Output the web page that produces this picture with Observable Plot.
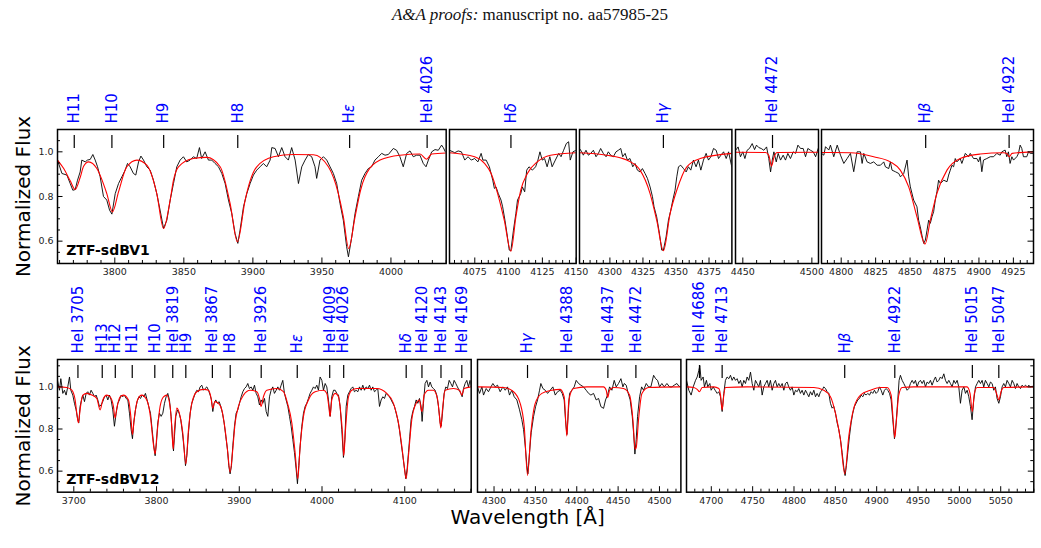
<!DOCTYPE html>
<html>
<head>
<meta charset="utf-8">
<script src="https://cdn.jsdelivr.net/npm/d3@7"></script>
<script src="https://cdn.jsdelivr.net/npm/@observablehq/plot@0.6"></script>
<style>
  body { margin: 0; background: #fff; }
  #fig { position: relative; width: 1041px; height: 548px; overflow: hidden; background: #fff; }
  .panel { position: absolute; }
  #title { position: absolute; left: 0; top: 6px; width: 1060px; text-align: center;
           font-family: "Liberation Serif", "Times New Roman", serif; font-size: 17px; line-height: 17px; color: #111; }
</style>
</head>
<body>
<div id="fig">
  <div id="title"><i>A&amp;A proofs:</i> manuscript no. aa57985-25</div>
</div>
<script>
// ---------------- ZTF-sdBV1: observed spectrum [wavelength Å, normalized flux] ----------------
const bv1ObsBlue = [[3758.5,0.963],[3761.7,0.903],[3765.3,0.896],[3767.7,0.858],[3769.6,0.828],[3771.3,0.831],[3773.0,0.873],[3774.9,0.91],[3776.1,0.963],[3778.6,0.955],[3780.2,0.963],[3782.2,0.966],[3784.1,0.988],[3785.8,0.963],[3787.5,0.933],[3789.4,0.888],[3791.8,0.80],[3794.2,0.784],[3796.2,0.739],[3797.9,0.721],[3800.3,0.813],[3802.7,0.858],[3805.1,0.888],[3807.5,0.918],[3809.2,0.948],[3811.1,0.933],[3813.5,0.903],[3815.2,0.896],[3817.2,0.955],[3818.9,0.981],[3820.8,0.963],[3823.2,0.933],[3825.6,0.918],[3828.0,0.873],[3830.4,0.813],[3832.8,0.739],[3835.3,0.657],[3837.7,0.694],[3840.1,0.784],[3842.5,0.858],[3844.9,0.933],[3847.3,0.963],[3849.7,0.978],[3852.1,0.955],[3854.5,0.963],[3856.9,0.978],[3859.3,0.970],[3861.3,1.019],[3862.9,0.970],[3865.4,1.0],[3867.8,0.963],[3870.2,0.963],[3872.6,0.948],[3875.1,0.933],[3877.5,0.903],[3879.9,0.858],[3882.3,0.784],[3884.7,0.724],[3887.1,0.634],[3889.1,0.59],[3890.7,0.649],[3893.2,0.754],[3895.6,0.813],[3898.0,0.858],[3900.4,0.896],[3902.8,0.918],[3905.2,0.933],[3907.6,0.948],[3910.0,0.933],[3912.5,0.963],[3913.7,1.019],[3916.1,1.015],[3918.5,0.978],[3920.9,1.019],[3923.3,0.978],[3925.7,0.963],[3928.1,1.019],[3930.6,0.963],[3933.0,0.858],[3935.4,0.933],[3937.8,0.963],[3940.2,0.988],[3942.6,0.978],[3945.0,0.933],[3946.2,0.881],[3948.6,0.963],[3951.1,0.978],[3953.5,0.963],[3955.9,0.933],[3958.3,0.903],[3960.7,0.858],[3963.1,0.769],[3965.5,0.694],[3967.9,0.575],[3969.2,0.53],[3971.6,0.619],[3974.0,0.724],[3976.4,0.80],[3978.8,0.873],[3981.2,0.903],[3983.6,0.925],[3986.0,0.933],[3988.4,0.963],[3990.9,0.978],[3993.3,0.993],[3995.7,0.985],[3998.1,0.988],[4001.7,1.015],[4004.1,1.007],[4006.5,0.978],[4008.9,0.933],[4011.4,0.993],[4013.8,1.004],[4016.2,0.978],[4018.6,0.985],[4021.0,0.985],[4023.4,0.948],[4025.4,0.933],[4027.1,0.963],[4029.5,1.0],[4031.9,1.01],[4034.3,1.007],[4036.7,1.03],[4037.9,1.019],[4039.4,1.0]];
const bv1ObsHdelta = [[4056.3,1.007],[4060.2,0.996],[4062.7,1.004],[4065.1,1.0],[4067.6,0.963],[4070.0,0.978],[4072.4,0.963],[4074.9,0.970],[4077.3,0.955],[4079.7,0.993],[4081.0,0.963],[4083.4,0.963],[4085.8,0.933],[4088.3,0.873],[4089.5,0.836],[4090.7,0.843],[4092.4,0.813],[4094.4,0.784],[4095.6,0.754],[4097.3,0.694],[4098.8,0.634],[4100.5,0.560],[4101.7,0.557],[4103.6,0.649],[4105.4,0.724],[4106.6,0.784],[4109.0,0.813],[4110.2,0.843],[4111.9,0.821],[4113.4,0.918],[4115.1,0.933],[4117.6,0.918],[4120.0,0.933],[4121.7,0.963],[4123.2,1.0],[4124.9,0.963],[4126.6,0.970],[4128.5,0.933],[4130.5,0.978],[4132.2,0.933],[4134.6,0.963],[4137.1,0.993],[4138.8,0.978],[4140.7,1.007],[4142.7,1.037],[4144.4,1.045],[4145.6,0.963],[4147.6,1.0],[4149.9,1.007]];
const bv1ObsHgamma = [[4277.0,1.015],[4278.7,1.0],[4279.9,0.985],[4281.9,1.007],[4283.7,0.985],[4285.5,0.993],[4287.5,1.007],[4289.5,0.978],[4291.3,0.993],[4293.0,1.015],[4295.0,0.993],[4297.1,0.978],[4298.8,1.0],[4300.6,0.985],[4302.6,0.978],[4304.6,1.0],[4306.4,1.007],[4308.2,1.015],[4309.7,0.978],[4311.5,0.993],[4313.2,0.963],[4315.2,0.970],[4317.3,0.933],[4319.0,0.948],[4320.8,0.918],[4322.8,0.910],[4324.6,0.925],[4326.6,0.903],[4328.4,0.881],[4330.4,0.843],[4332.2,0.799],[4333.4,0.754],[4335.4,0.709],[4337.5,0.634],[4339.2,0.560],[4340.5,0.560],[4342.5,0.619],[4344.3,0.694],[4346.1,0.739],[4347.6,0.784],[4349.3,0.828],[4350.6,0.888],[4351.9,0.933],[4353.6,0.940],[4355.7,0.925],[4357.7,0.910],[4359.4,0.933],[4361.2,0.918],[4363.2,0.963],[4365.2,0.933],[4367.0,0.963],[4368.8,0.918],[4370.8,0.963],[4372.8,0.993],[4374.6,0.963],[4376.4,0.978],[4378.4,1.015],[4380.4,1.007],[4382.2,0.970],[4384.0,0.985],[4386.0,1.0],[4388.0,0.970],[4389.8,1.0],[4392.2,0.933]];
const bv1ObsHeI4472 = [[4444.8,1.007],[4446.6,1.022],[4448.3,0.978],[4450.0,1.0],[4451.5,0.970],[4453.1,1.007],[4454.8,1.015],[4456.8,1.037],[4458.5,1.01],[4459.9,1.03],[4461.6,1.019],[4463.3,1.015],[4465.2,1.007],[4467.2,1.022],[4468.8,0.970],[4470.1,0.910],[4471.3,0.963],[4472.5,1.0],[4474.2,0.955],[4475.6,0.993],[4477.3,0.963],[4479.2,0.985],[4480.9,0.963],[4482.6,0.993],[4484.5,0.970],[4486.5,1.0],[4488.2,0.993],[4489.9,1.03],[4491.8,1.015],[4493.7,1.015],[4495.4,0.978],[4497.1,1.015],[4499.0,1.007],[4501.0,1.0],[4502.7,0.978],[4504.6,1.015]];
const bv1ObsHbeta = [[4785.7,0.993],[4787.4,0.985],[4788.6,1.023],[4791.0,1.008],[4792.2,1.03],[4794.6,0.978],[4797.1,1.03],[4799.5,0.985],[4801.9,0.948],[4804.3,0.970],[4806.7,0.993],[4809.1,0.911],[4811.5,1.0],[4814.0,1.0],[4815.2,0.948],[4816.4,0.993],[4818.8,0.955],[4821.2,0.948],[4823.6,0.955],[4826.1,0.940],[4828.5,0.940],[4830.9,0.955],[4832.1,0.933],[4834.5,0.925],[4835.7,0.955],[4836.9,0.918],[4839.3,0.911],[4841.8,0.903],[4843.0,0.888],[4845.4,0.903],[4847.8,0.963],[4849.0,0.888],[4850.2,0.843],[4852.6,0.784],[4855.0,0.754],[4856.2,0.694],[4857.4,0.664],[4858.6,0.627],[4859.9,0.590],[4861.1,0.605],[4862.3,0.649],[4863.5,0.694],[4864.7,0.680],[4865.9,0.709],[4867.1,0.732],[4868.3,0.784],[4869.5,0.821],[4870.7,0.873],[4872.0,0.858],[4874.4,0.873],[4876.8,0.866],[4878.0,0.896],[4879.2,0.918],[4880.4,0.940],[4881.6,0.933],[4882.8,0.970],[4884.0,0.955],[4886.4,0.970],[4887.6,0.948],[4888.8,0.970],[4890.1,0.993],[4892.5,0.978],[4893.7,0.993],[4896.1,0.970],[4898.5,0.970],[4899.7,0.955],[4900.9,0.978],[4902.1,0.911],[4903.3,0.963],[4905.7,0.970],[4908.2,0.978],[4910.6,0.978],[4913.0,0.993],[4915.4,0.985],[4916.6,1.0],[4919.0,1.008],[4920.2,0.978],[4921.4,1.0],[4922.6,0.948],[4923.9,0.978],[4925.1,0.963],[4927.5,0.978],[4928.7,0.993],[4929.9,1.03],[4931.1,1.015],[4932.3,0.978],[4934.7,0.978],[4936.0,1.0],[4937.2,0.993],[4939.6,0.993]];

// ---------------- ZTF-sdBV1: best-fit model ----------------
const bv1ModBlue = [[3758.5,0.963],[3763.0,0.925],[3767.7,0.87],[3771.3,0.831],[3774.9,0.885],[3777.4,0.935],[3781.0,0.955],[3787.0,0.925],[3794.2,0.813],[3798.3,0.731],[3802.7,0.821],[3808.7,0.933],[3816.0,0.963],[3823.2,0.940],[3830.4,0.813],[3835.3,0.657],[3840.1,0.784],[3842.5,0.873],[3846.1,0.933],[3856.9,0.970],[3866.6,0.975],[3876.3,0.933],[3883.5,0.769],[3888.8,0.597],[3894.4,0.784],[3898.0,0.87],[3902.8,0.933],[3914.9,0.978],[3929.3,0.988],[3943.8,0.987],[3954.7,0.933],[3961.9,0.813],[3965.5,0.71],[3969.4,0.567],[3974.0,0.709],[3978.0,0.828],[3981.2,0.888],[3992.1,0.963],[4006.5,0.985],[4021.0,0.990],[4025.8,0.967],[4029.5,0.990],[4040.0,0.995]];
const bv1ModHdelta = [[4056.3,0.996],[4074.9,0.978],[4082.2,0.948],[4087.1,0.903],[4091.9,0.813],[4096.8,0.694],[4101.7,0.555],[4105.4,0.709],[4109.0,0.828],[4113.9,0.903],[4121.2,0.955],[4131.0,0.985],[4150.0,0.996]];
const bv1ModHgamma = [[4277.0,0.996],[4297.6,0.985],[4312.7,0.963],[4322.8,0.918],[4330.4,0.813],[4335.4,0.694],[4340.5,0.557],[4345.6,0.724],[4350.6,0.828],[4358.2,0.933],[4368.3,0.970],[4392.3,0.993]];
const bv1ModHeI4472 = [[4444.7,0.998],[4466.4,0.997],[4468.8,0.985],[4470.8,0.936],[4472.5,0.975],[4474.9,0.997],[4504.8,0.998]];
const bv1ModHbeta = [[4785.7,0.997],[4806.7,0.996],[4823.6,0.978],[4835.7,0.955],[4842.9,0.918],[4849.0,0.843],[4855.0,0.709],[4860.9,0.587],[4864.7,0.694],[4869.5,0.814],[4876.8,0.918],[4886.4,0.97],[4900.9,0.99],[4917.8,0.996],[4920.2,0.993],[4922.0,0.978],[4924.1,0.993],[4939.6,1.0]];

// ---------------- ZTF-sdBV12: observed spectrum ----------------
const bv12ObsBlue = [[3680.3,1.031],[3682.7,0.984],[3684.3,1.039],[3686.7,0.969],[3688.7,0.984],[3690.7,0.961],[3692.7,1.0],[3694.8,1.047],[3696.4,0.984],[3698.8,0.961],[3700.8,0.922],[3702.8,0.891],[3704.8,0.844],[3706.0,0.829],[3707.6,0.907],[3709.3,0.938],[3710.9,0.961],[3712.9,0.930],[3714.9,0.969],[3716.9,0.977],[3718.9,0.961],[3720.9,0.984],[3723.0,0.969],[3725.0,0.953],[3727.0,0.961],[3729.0,0.938],[3731.0,0.907],[3733.0,0.914],[3735.0,0.930],[3737.1,0.953],[3739.1,0.961],[3741.1,0.938],[3743.1,0.961],[3745.1,0.938],[3747.1,0.891],[3749.1,0.813],[3751.2,0.875],[3753.2,0.922],[3755.2,0.938],[3757.2,0.961],[3759.2,0.953],[3761.2,0.961],[3763.2,0.945],[3765.3,0.938],[3767.3,0.875],[3769.3,0.797],[3770.9,0.754],[3772.5,0.829],[3774.5,0.891],[3776.5,0.930],[3778.6,0.953],[3780.6,0.945],[3782.6,0.961],[3784.6,0.953],[3786.6,0.969],[3788.6,0.938],[3790.6,0.907],[3792.7,0.875],[3794.7,0.797],[3796.7,0.720],[3798.3,0.673],[3799.9,0.735],[3801.5,0.829],[3803.5,0.875],[3805.6,0.860],[3807.6,0.875],[3809.6,0.922],[3811.6,0.953],[3813.6,0.969],[3815.6,0.938],[3817.6,0.860],[3819.3,0.751],[3820.5,0.696],[3821.7,0.766],[3823.3,0.860],[3825.3,0.891],[3827.3,0.875],[3829.3,0.844],[3831.3,0.782],[3833.4,0.704],[3835.0,0.626],[3836.6,0.673],[3838.6,0.782],[3840.6,0.875],[3842.6,0.922],[3844.6,0.945],[3846.7,0.969],[3848.7,0.984],[3850.7,0.977],[3852.7,1.0],[3854.7,1.008],[3856.7,0.984],[3858.7,0.992],[3860.8,1.0],[3862.8,0.984],[3864.8,0.961],[3866.4,0.938],[3868.0,0.883],[3869.6,0.922],[3871.6,0.938],[3873.6,0.922],[3875.7,0.930],[3877.7,0.907],[3879.7,0.875],[3881.7,0.829],[3883.7,0.766],[3885.7,0.704],[3887.3,0.626],[3888.9,0.587],[3890.6,0.626],[3892.2,0.720],[3894.2,0.813],[3896.2,0.875],[3898.2,0.891],[3900.2,0.922],[3902.3,0.953],[3904.3,0.977],[3906.3,0.992],[3908.3,1.0],[3910.3,1.016],[3912.3,0.992],[3914.3,1.0],[3916.4,0.984],[3918.4,1.008],[3920.4,0.969],[3922.4,0.953],[3924.4,0.914],[3926.4,0.938],[3928.4,0.922],[3930.5,0.945],[3932.5,0.883],[3934.5,0.860],[3936.5,0.953],[3938.5,0.984],[3940.5,1.0],[3942.5,0.969],[3944.6,0.984],[3946.6,1.0],[3948.6,0.984],[3950.6,1.008],[3952.6,1.031],[3954.6,0.969],[3956.6,0.938],[3958.7,0.907],[3960.7,0.860],[3962.7,0.813],[3964.7,0.751],[3966.7,0.688],[3968.7,0.611],[3970.3,0.540],[3971.9,0.626],[3973.6,0.720],[3975.6,0.813],[3977.6,0.875],[3979.6,0.907],[3981.6,0.922],[3983.6,0.945],[3985.6,0.969],[3987.7,0.984],[3989.7,1.0],[3991.7,0.992],[3993.7,1.008],[3995.7,0.984],[3997.7,1.047],[3999.8,1.031],[4001.8,0.984],[4003.8,1.016],[4005.8,1.0],[4007.8,0.938],[4009.8,0.860],[4011.8,0.953],[4013.9,0.984],[4015.9,0.984],[4017.9,0.969],[4019.9,0.961],[4021.9,0.907],[4023.9,0.797],[4025.9,0.665],[4027.6,0.751],[4029.2,0.907],[4031.2,0.961],[4033.2,0.977],[4035.2,0.992],[4037.2,1.0],[4039.2,0.977],[4041.2,0.984],[4043.3,0.977],[4045.3,1.0],[4047.3,0.984],[4049.3,1.008],[4051.3,0.984],[4053.3,1.0],[4055.4,0.992],[4057.4,1.008],[4059.4,0.984],[4061.4,1.0],[4063.4,0.977],[4065.4,0.984],[4067.4,0.992],[4069.5,0.907],[4071.5,0.938],[4073.5,0.953],[4075.5,0.945],[4077.5,0.969],[4079.5,0.961],[4081.5,0.953],[4083.6,0.938],[4085.6,0.922],[4087.6,0.907],[4089.6,0.875],[4091.6,0.844],[4093.6,0.797],[4095.6,0.735],[4097.7,0.673],[4099.7,0.611],[4101.3,0.564],[4102.9,0.611],[4104.5,0.688],[4106.1,0.766],[4107.7,0.844],[4109.7,0.883],[4111.8,0.907],[4113.8,0.938],[4115.8,0.922],[4117.8,0.945],[4119.8,0.907],[4121.0,0.836],[4122.6,0.922],[4124.6,1.016],[4126.7,1.031],[4128.7,1.0],[4130.7,1.023],[4132.7,1.0],[4134.7,0.992],[4136.7,0.984],[4138.7,0.961],[4140.8,0.907],[4142.8,0.829],[4144.0,0.813],[4145.6,0.875],[4147.6,0.969],[4149.6,1.0],[4151.6,0.992],[4153.7,1.031],[4155.7,1.016],[4157.7,1.0],[4159.7,1.031],[4161.7,1.016],[4163.7,1.0],[4165.7,0.984],[4167.8,0.969],[4169.4,0.953],[4171.0,0.992],[4173.0,1.016],[4175.0,1.031],[4177.0,1.0],[4179.0,1.031],[4180.3,1.0]];
const bv12ObsMid = [[4280.0,1.0],[4282.5,0.969],[4285.3,1.0],[4287.3,0.961],[4290.5,0.992],[4293.3,0.977],[4296.2,1.0],[4298.6,1.016],[4301.4,1.0],[4304.2,1.008],[4307.4,0.977],[4310.7,1.0],[4313.5,0.984],[4316.3,1.0],[4318.7,0.961],[4321.5,0.984],[4324.4,0.953],[4327.6,0.938],[4330.8,0.891],[4333.6,0.844],[4335.7,0.797],[4337.7,0.719],[4339.7,0.626],[4340.9,0.587],[4342.9,0.688],[4344.9,0.782],[4347.8,0.860],[4350.2,0.906],[4352.6,0.938],[4355.0,0.984],[4356.6,1.016],[4359.1,0.992],[4361.9,0.984],[4364.7,0.969],[4367.9,0.984],[4371.1,1.0],[4374.0,0.961],[4376.8,0.977],[4380.0,0.984],[4382.4,0.969],[4384.8,0.938],[4386.4,0.844],[4388.1,0.774],[4389.7,0.875],[4391.3,0.969],[4394.1,0.984],[4396.9,1.0],[4399.3,1.031],[4402.2,1.016],[4405.0,1.008],[4408.2,1.0],[4411.4,0.984],[4414.3,0.969],[4417.1,0.961],[4420.3,0.969],[4423.5,0.938],[4426.4,0.945],[4429.2,0.906],[4432.4,0.898],[4434.8,0.938],[4437.2,0.961],[4439.7,1.0],[4442.5,0.984],[4445.3,1.031],[4447.7,1.0],[4450.5,1.016],[4453.4,1.039],[4455.8,1.0],[4457.4,1.016],[4459.8,1.008],[4462.2,0.969],[4464.6,0.938],[4467.1,0.860],[4468.7,0.782],[4470.3,0.681],[4471.9,0.751],[4473.5,0.860],[4476.0,0.953],[4478.4,1.0],[4480.8,0.984],[4484.0,1.016],[4486.8,1.0],[4489.6,1.0],[4492.9,1.055],[4495.3,1.039],[4497.7,1.031],[4500.1,1.0],[4502.9,1.016],[4505.8,1.0],[4509.0,1.016],[4512.2,1.0],[4515.0,1.0],[4517.8,1.008],[4521.1,1.016],[4523.5,1.003],[4525.9,1.0]];
const bv12ObsRed = [[4670.0,1.031],[4672.8,0.984],[4675.6,0.961],[4678.1,1.0],[4680.9,1.031],[4682.9,1.047],[4684.9,1.078],[4686.1,1.101],[4687.7,1.031],[4690.1,1.047],[4691.7,1.0],[4694.1,1.031],[4695.7,1.0],[4698.2,1.016],[4699.8,0.984],[4702.2,1.0],[4704.6,0.984],[4707.1,0.969],[4709.1,0.977],[4711.1,0.953],[4713.1,0.883],[4715.1,0.969],[4717.1,1.031],[4719.1,1.047],[4721.2,1.039],[4723.2,1.055],[4725.2,1.031],[4727.2,1.047],[4729.2,1.031],[4731.2,1.039],[4733.3,1.016],[4735.3,1.031],[4737.3,1.0],[4739.3,1.031],[4741.3,1.016],[4743.3,1.047],[4745.3,1.031],[4747.4,1.070],[4749.4,1.016],[4751.4,0.984],[4753.4,1.031],[4755.4,1.016],[4757.4,1.0],[4759.4,1.031],[4761.5,0.961],[4763.5,1.0],[4765.5,1.016],[4767.5,1.031],[4769.5,1.0],[4771.5,1.031],[4773.6,0.984],[4775.6,1.016],[4777.6,1.031],[4779.6,1.0],[4781.6,1.016],[4783.6,1.0],[4785.7,1.016],[4787.7,0.984],[4789.7,1.016],[4791.7,1.023],[4793.7,1.0],[4795.7,0.984],[4797.7,1.0],[4799.8,0.961],[4801.8,0.984],[4803.8,0.977],[4805.8,0.992],[4807.8,0.969],[4809.8,0.984],[4811.9,0.961],[4813.9,0.984],[4815.9,0.969],[4817.9,0.953],[4819.9,0.977],[4821.9,0.961],[4824.0,0.984],[4826.0,0.953],[4828.0,0.969],[4830.0,0.953],[4832.0,0.977],[4834.0,0.984],[4836.0,1.0],[4838.1,0.992],[4840.1,0.977],[4842.1,0.969],[4844.1,0.922],[4846.1,0.899],[4848.1,0.907],[4850.2,0.875],[4852.2,0.829],[4854.2,0.797],[4856.2,0.751],[4858.2,0.688],[4860.2,0.618],[4861.8,0.579],[4863.4,0.626],[4865.0,0.688],[4867.1,0.766],[4869.1,0.829],[4871.1,0.875],[4873.1,0.907],[4875.1,0.922],[4877.1,0.938],[4879.2,0.945],[4881.2,0.961],[4883.2,0.953],[4885.2,0.969],[4887.2,0.961],[4889.2,0.969],[4891.3,0.961],[4893.3,0.977],[4895.3,0.969],[4897.3,0.984],[4899.3,0.969],[4901.3,0.977],[4903.3,1.0],[4905.4,0.984],[4907.4,0.961],[4909.4,0.984],[4911.4,0.992],[4913.4,0.984],[4915.5,0.969],[4917.5,0.938],[4919.5,0.844],[4921.5,0.754],[4923.5,0.829],[4925.5,0.938],[4927.1,1.031],[4928.7,1.055],[4930.8,1.031],[4932.8,1.016],[4934.8,1.0],[4936.8,0.984],[4938.8,0.992],[4940.8,1.016],[4942.9,1.031],[4944.9,1.016],[4946.9,1.031],[4948.9,1.0],[4950.9,1.023],[4952.9,1.031],[4955.0,1.016],[4957.0,1.031],[4959.0,1.0],[4961.0,1.023],[4963.0,1.016],[4965.0,1.031],[4967.0,1.008],[4969.1,1.031],[4971.1,1.047],[4973.1,1.023],[4975.1,1.031],[4977.1,1.047],[4979.1,1.039],[4981.2,1.062],[4983.2,1.031],[4985.2,1.016],[4987.2,1.031],[4989.2,1.016],[4991.2,1.0],[4993.3,1.031],[4995.3,1.016],[4997.3,1.031],[4999.3,1.0],[5001.3,0.922],[5003.3,0.984],[5005.4,1.0],[5007.4,0.969],[5009.4,0.984],[5011.4,0.953],[5013.4,0.907],[5015.4,0.844],[5017.4,0.938],[5019.5,1.0],[5021.5,1.016],[5023.5,1.031],[5025.5,1.016],[5027.5,1.031],[5029.5,1.0],[5031.5,1.031],[5033.6,1.016],[5035.6,1.0],[5037.6,1.023],[5039.6,1.016],[5041.6,0.984],[5043.6,1.0],[5045.6,0.945],[5047.7,0.922],[5049.7,0.953],[5051.7,1.0],[5053.7,1.016],[5055.7,1.0],[5057.7,1.031],[5059.8,1.016],[5061.8,1.0],[5063.8,1.031],[5065.8,1.016],[5067.8,0.992],[5069.8,1.016],[5071.9,1.0],[5073.9,0.992],[5075.9,1.008],[5077.9,1.0],[5079.9,1.008],[5082.0,1.0],[5084.0,1.008],[5086.0,1.0],[5088.0,1.003],[5090.0,1.0]];

// ---------------- ZTF-sdBV12: best-fit model ----------------
const bv12ModBlue = [[3680.3,1.0],[3691.5,0.997],[3697.6,0.984],[3701.6,0.938],[3703.6,0.875],[3705.6,0.829],[3707.6,0.891],[3710.9,0.961],[3715.7,0.969],[3721.8,0.961],[3727.8,0.945],[3731.8,0.891],[3735.0,0.938],[3739.9,0.961],[3743.9,0.953],[3747.9,0.907],[3749.9,0.852],[3752.0,0.899],[3756.0,0.953],[3760.0,0.961],[3766.1,0.938],[3768.9,0.860],[3770.9,0.774],[3772.9,0.844],[3777.0,0.938],[3782.2,0.961],[3788.2,0.938],[3793.1,0.844],[3795.5,0.751],[3798.3,0.681],[3800.3,0.766],[3804.3,0.907],[3808.4,0.953],[3812.4,0.961],[3816.4,0.907],[3818.4,0.813],[3820.1,0.704],[3821.7,0.797],[3824.5,0.899],[3828.5,0.860],[3831.7,0.782],[3835.4,0.634],[3838.6,0.797],[3842.6,0.922],[3848.7,0.977],[3856.7,0.988],[3862.8,0.984],[3865.6,0.953],[3868.0,0.899],[3870.4,0.930],[3874.9,0.922],[3878.9,0.891],[3882.9,0.797],[3886.1,0.688],[3888.9,0.595],[3891.8,0.688],[3895.0,0.829],[3899.0,0.907],[3905.1,0.961],[3913.1,0.984],[3921.2,0.977],[3924.4,0.945],[3926.4,0.907],[3929.2,0.953],[3933.3,0.984],[3945.4,0.992],[3953.4,0.977],[3958.3,0.922],[3963.5,0.829],[3967.5,0.688],[3970.7,0.564],[3973.6,0.720],[3977.6,0.860],[3983.6,0.938],[3991.7,0.977],[4001.8,0.984],[4005.8,0.969],[4008.2,0.907],[4009.8,0.860],[4011.8,0.938],[4015.9,0.969],[4019.9,0.953],[4022.7,0.875],[4024.7,0.782],[4026.3,0.673],[4028.4,0.797],[4032.0,0.953],[4036.0,0.984],[4042.1,0.992],[4054.1,0.992],[4066.2,0.992],[4078.3,0.969],[4086.4,0.922],[4092.4,0.829],[4096.4,0.720],[4099.3,0.626],[4101.7,0.564],[4104.5,0.673],[4108.5,0.844],[4113.8,0.922],[4117.8,0.938],[4119.8,0.891],[4121.0,0.883],[4123.4,0.961],[4128.7,0.984],[4134.7,0.984],[4139.5,0.945],[4142.0,0.860],[4143.6,0.805],[4145.6,0.891],[4148.8,0.984],[4158.9,0.992],[4166.2,0.984],[4169.0,0.961],[4171.8,0.992],[4180.3,1.0]];
const bv12ModMid = [[4280.0,1.0],[4311.5,0.997],[4323.6,0.977],[4331.6,0.922],[4336.5,0.813],[4340.5,0.58],[4344.5,0.782],[4349.8,0.922],[4357.8,0.969],[4369.9,0.984],[4380.0,0.988],[4384.8,0.953],[4388.0,0.767],[4390.5,0.938],[4396.1,0.992],[4412.2,1.0],[4432.4,1.0],[4435.6,0.984],[4437.4,0.95],[4439.7,0.984],[4444.5,0.997],[4456.6,0.992],[4463.8,0.961],[4467.9,0.844],[4470.6,0.704],[4471.9,0.712],[4474.7,0.844],[4478.8,0.969],[4486.8,0.997],[4525.9,1.0]];
const bv12ModRed = [[4670.0,1.0],[4678.8,0.997],[4682.9,0.988],[4685.7,0.977],[4688.9,0.997],[4703.0,1.0],[4709.1,0.992],[4711.1,0.961],[4713.1,0.891],[4715.1,0.961],[4717.1,0.997],[4743.3,1.0],[4824.0,0.997],[4836.0,0.984],[4844.1,0.953],[4850.1,0.875],[4856.1,0.751],[4861.4,0.587],[4866.3,0.766],[4872.3,0.899],[4880.4,0.961],[4892.5,0.984],[4904.6,0.997],[4912.6,0.997],[4917.5,0.961],[4919.9,0.844],[4921.9,0.759],[4923.9,0.844],[4926.7,0.961],[4930.8,0.997],[4944.9,1.0],[5009.3,1.0],[5012.9,0.969],[5015.6,0.883],[5018.2,0.969],[5021.4,0.997],[5041.6,0.997],[5045.6,0.961],[5047.7,0.938],[5050.4,0.977],[5053.7,0.997],[5089.9,1.0]];

// ---------------- Line identifications [label, rest wavelength Å] ----------------
const bv1LinesBlue = [["H11",3770.63],["H10",3797.90],["H9",3835.39],["H8",3889.05],["Hε",3970.07],["HeI 4026",4026.2]];
const bv1LinesHdelta = [["Hδ",4101.74]];
const bv1LinesHgamma = [["Hγ",4340.47]];
const bv1LinesHeI4472 = [["HeI 4472",4471.5]];
const bv1LinesHbeta = [["Hβ",4861.33],["HeI 4922",4921.9]];
const bv12LinesBlue = [["HeI 3705",3705.0],["H13",3734.37],["H12",3750.15],["H11",3770.63],["H10",3797.90],["HeI 3819",3819.6],["H9",3835.39],["HeI 3867",3867.5],["H8",3889.05],["HeI 3926",3926.5],["Hε",3970.07],["HeI 4009",4009.3],["HeI 4026",4026.2],["Hδ",4101.74],["HeI 4120",4120.8],["HeI 4143",4143.8],["HeI 4169",4168.97]];
const bv12LinesMid = [["Hγ",4340.47],["HeI 4388",4387.9],["HeI 4437",4437.6],["HeI 4472",4471.5]];
const bv12LinesRed = [["HeII 4686",4685.7],["HeI 4713",4713.1],["Hβ",4861.33],["HeI 4922",4921.9],["HeI 5015",5015.7],["HeI 5047",5047.7]];

// ---------------- Flux ticks ----------------
const fluxMajorTicks = [0.6, 0.8, 1.0];
const fluxMinorTicks = [0.55, 0.65, 0.7, 0.75, 0.85, 0.9, 0.95, 1.05, 1.1];

// ---------------- Layout (pixel frame boxes for each row / panel) ----------------
const rowTop = {top: 129.3, bottom: 263.3, yDomain: [0.5, 1.1]};
const rowBottom = {top: 359.3, bottom: 492, yDomain: [0.5, 1.13]};

const panels = [
  {row: rowTop, left: 57.3, right: 446, domain: [3758.5, 4040], major: 50, minor: 10, obs: bv1ObsBlue, model: bv1ModBlue, lines: bv1LinesBlue, yAxis: "left", star: "ZTF-sdBV1"},
  {row: rowTop, left: 449.3, right: 576, domain: [4056.3, 4150], major: 25, minor: 5, obs: bv1ObsHdelta, model: bv1ModHdelta, lines: bv1LinesHdelta},
  {row: rowTop, left: 579.3, right: 731.7, domain: [4277, 4392.3], major: 25, minor: 5, obs: bv1ObsHgamma, model: bv1ModHgamma, lines: bv1LinesHgamma},
  {row: rowTop, left: 735.3, right: 818.3, domain: [4444.7, 4504.8], major: 50, minor: 10, obs: bv1ObsHeI4472, model: bv1ModHeI4472, lines: bv1LinesHeI4472},
  {row: rowTop, left: 821.3, right: 1033.3, domain: [4785.7, 4939.6], major: 25, minor: 5, obs: bv1ObsHbeta, model: bv1ModHbeta, lines: bv1LinesHbeta, yAxis: "right"},
  {row: rowBottom, left: 57.3, right: 471, domain: [3680.3, 4180.3], major: 100, minor: 20, obs: bv12ObsBlue, model: bv12ModBlue, lines: bv12LinesBlue, yAxis: "left", star: "ZTF-sdBV12"},
  {row: rowBottom, left: 477.3, right: 680.7, domain: [4280, 4525.9], major: 50, minor: 10, obs: bv12ObsMid, model: bv12ModMid, lines: bv12LinesMid, xLabel: "Wavelength [Å]"},
  {row: rowBottom, left: 686, right: 1033.3, domain: [4670, 5090], major: 50, minor: 10, obs: bv12ObsRed, model: bv12ModRed, lines: bv12LinesRed, yAxis: "right"}
];

const ML = 45, MR = 15, MT = 95, MB = 40;
const fig = document.getElementById("fig");

function tickRange(lo, hi, step) {
  const out = [];
  for (let k = Math.ceil(lo / step - 1e-9); k * step <= hi + 1e-9; ++k) out.push(Math.round(k * step * 1000) / 1000);
  return out;
}

for (const p of panels) {
  const innerW = p.right - p.left;
  const innerH = p.row.bottom - p.row.top;
  const [x0, x1] = p.domain;
  const xMajor = tickRange(x0, x1, p.major);
  const xMinor = tickRange(x0, x1, p.minor).filter(v => Math.abs(v / p.major - Math.round(v / p.major)) > 1e-6);
  const yMinor = fluxMinorTicks.filter(v => v < p.row.yDomain[1] - 1e-3);

  const marks = [
    Plot.line(p.obs, {x: d => d[0], y: d => d[1], stroke: "black", strokeWidth: 0.9, clip: true}),
    Plot.line(p.model, {x: d => d[0], y: d => d[1], stroke: "#ff0000", strokeWidth: 1.1, curve: "monotone-x", clip: true}),
    // inward x ticks
    Plot.ruleX(xMajor, {x: d => d, insetTop: innerH - 5.5, stroke: "black", strokeWidth: 1}),
    Plot.ruleX(xMinor, {x: d => d, insetTop: innerH - 3, stroke: "black", strokeWidth: 1}),
    Plot.axisX(xMajor, {anchor: "bottom", tickSize: 0, tickPadding: 5, tickFormat: d => String(d), label: null, fill: "#222"}),
    // line identification markers
    Plot.ruleX(p.lines, {x: d => d[1], insetTop: 6, insetBottom: innerH - 19, stroke: "black", strokeWidth: 1.2}),
    Plot.text(p.lines, {x: d => d[1], frameAnchor: "top", text: d => d[0], rotate: -90, textAnchor: "start", lineAnchor: "middle",
      dy: -6, fill: "#0000ff", fontSize: 15})
  ];

  if (p.yAxis === "left") {
    marks.push(
      Plot.ruleY(fluxMajorTicks, {y: d => d, insetRight: innerW - 5.5, stroke: "black"}),
      Plot.ruleY(yMinor, {y: d => d, insetRight: innerW - 3, stroke: "black"}),
      Plot.axisY(fluxMajorTicks, {anchor: "left", tickSize: 0, tickPadding: 4, tickFormat: d => d.toFixed(1), label: null, fill: "#222"}),
      Plot.text(["Normalized Flux"], {frameAnchor: "left", text: d => d, rotate: -90, textAnchor: "middle", lineAnchor: "middle",
        dx: -34, fontSize: 20, fill: "black"})
    );
  } else if (p.yAxis === "right") {
    marks.push(
      Plot.ruleY(fluxMajorTicks, {y: d => d, insetLeft: innerW - 5.5, stroke: "black"}),
      Plot.ruleY(yMinor, {y: d => d, insetLeft: innerW - 3, stroke: "black"})
    );
  }
  if (p.star) {
    marks.push(Plot.text([p.star], {frameAnchor: "bottom-left", text: d => d, textAnchor: "start", lineAnchor: "bottom",
      dx: 8.7, dy: -8.3, fontSize: 14, fontWeight: "bold", fill: "black"}));
  }
  if (p.xLabel) {
    marks.push(Plot.text([p.xLabel], {frameAnchor: "bottom", text: d => d, textAnchor: "middle", lineAnchor: "bottom",
      dx: 527.5 - (p.left + p.right) / 2, dy: 32, fontSize: 20, fill: "black"}));
  }
  marks.push(Plot.frame({stroke: "black", strokeWidth: 1.5}));

  const svg = Plot.plot({
    width: innerW + ML + MR,
    height: innerH + MT + MB,
    marginLeft: ML, marginRight: MR, marginTop: MT, marginBottom: MB,
    x: {domain: p.domain, axis: null},
    y: {domain: p.row.yDomain, axis: null},
    style: {background: "transparent", overflow: "visible", fontFamily: "DejaVu Sans", fontSize: "9.5px", color: "black", maxWidth: "none"},
    marks
  });

  // Greek letters of the Balmer labels in italic
  d3.select(svg).selectAll("text").each(function () {
    const m = /^H([εδγβ])$/.exec(this.textContent);
    if (m) {
      this.textContent = "H";
      const ts = document.createElementNS("http://www.w3.org/2000/svg", "tspan");
      ts.setAttribute("font-style", "italic");
      ts.textContent = m[1];
      this.appendChild(ts);
    }
  });

  const holder = document.createElement("div");
  holder.className = "panel";
  holder.style.left = (p.left - ML) + "px";
  holder.style.top = (p.row.top - MT) + "px";
  holder.appendChild(svg);
  fig.appendChild(holder);
}
</script>
</body>
</html>
